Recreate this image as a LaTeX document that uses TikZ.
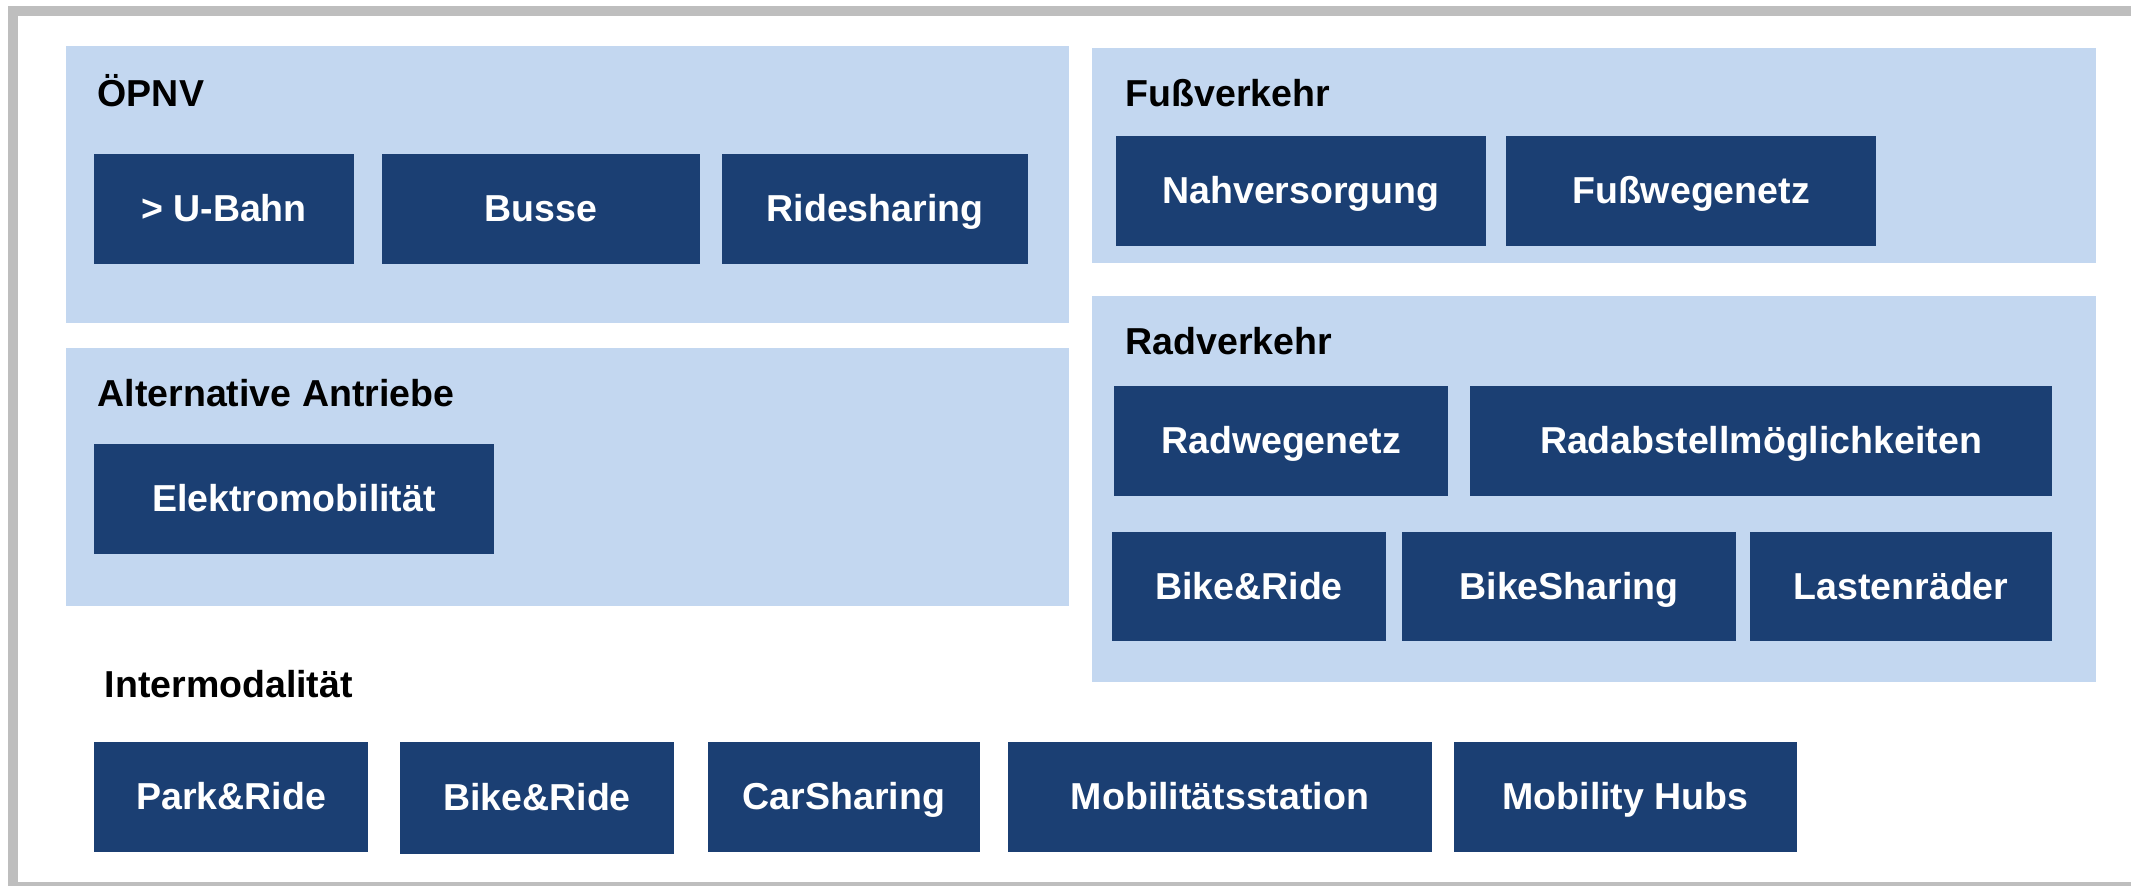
\documentclass[tikz,border=0pt]{standalone}
\usepackage{fontspec}
\setmainfont{Liberation Sans}
\definecolor{paneblue}{HTML}{C3D7F0}
\definecolor{tileblue}{HTML}{1B3F73}
\definecolor{framegray}{HTML}{BEBEBE}
\begin{document}
\begin{tikzpicture}[x=0.01cm,y=-0.01cm,
    panel/.style={fill=paneblue,draw=none},
    tile/.style={fill=tileblue,text=white,inner sep=0pt,minimum height=1.10cm,
      text height=0.716em,text depth=0pt,
      font=\fontsize{10.67pt}{12pt}\selectfont\bfseries},
    heading/.style={anchor=base west,inner sep=0pt,text=black,
      font=\fontsize{10.67pt}{12pt}\selectfont\bfseries}]
    \clip (0,0) rectangle (2131,886);
    \useasboundingbox (0,0) rectangle (2131,886);
    \draw[line width=2.845pt,framegray] (13,11) rectangle (2145,887);

    % panels
    \fill[panel] (66,46) rectangle (1069,323);
    \fill[panel] (66,348) rectangle (1069,606);
    \fill[panel] (1092,48) rectangle (2096,263);
    \fill[panel] (1092,296) rectangle (2096,682);

    % OePNV
    \node[heading] (oepnv) at (97,107) {ÖPNV};
    \node[tile,minimum width=2.60cm] (ubahn) at (224,209) {> U-Bahn};
    \node[tile,minimum width=3.18cm] (busse) at (541,209) {Busse};
    \node[tile,minimum width=3.06cm] (ridesh) at (875,209) {Ridesharing};

    % Alternative Antriebe
    \node[heading] (antriebe) at (97,407) {Alternative Antriebe};
    \node[tile,minimum width=4.00cm] (elektro) at (294,499) {Elektromobilität};

    % Fussverkehr
    \node[heading] (fuss) at (1125,107) {Fußverkehr};
    \node[tile,minimum width=3.70cm] (nahvers) at (1301,191) {Nahversorgung};
    \node[tile,minimum width=3.70cm] (fussweg) at (1691,191) {Fußwegenetz};

    % Radverkehr
    \node[heading] (rad) at (1125,355) {Radverkehr};
    \node[tile,minimum width=3.34cm] (radweg) at (1281,441) {Radwegenetz};
    \node[tile,minimum width=5.82cm] (radabst) at (1761,441) {Radabstellmöglichkeiten};
    \node[tile,minimum width=2.74cm,minimum height=1.09cm] (bikeride) at (1249,586.5) {Bike\&Ride};
    \node[tile,minimum width=3.34cm,minimum height=1.09cm] (bikesh) at (1569,586.5) {BikeSharing};
    \node[tile,minimum width=3.02cm,minimum height=1.09cm] (lasten) at (1901,586.5) {Lastenräder};

    % Intermodalitaet
    \node[heading] (inter) at (104,698) {Intermodalität};
    \node[tile,minimum width=2.74cm] (parkride) at (231,797) {Park\&Ride};
    \node[tile,minimum width=2.74cm,minimum height=1.12cm] (bikeridei) at (537,798) {Bike\&Ride};
    \node[tile,minimum width=2.72cm] (carsh) at (844,797) {CarSharing};
    \node[tile,minimum width=4.24cm] (mobst) at (1220,797) {Mobilitätsstation};
    \node[tile,minimum width=3.43cm] (hubs) at (1625.5,797) {Mobility Hubs};
\end{tikzpicture}
\end{document}
